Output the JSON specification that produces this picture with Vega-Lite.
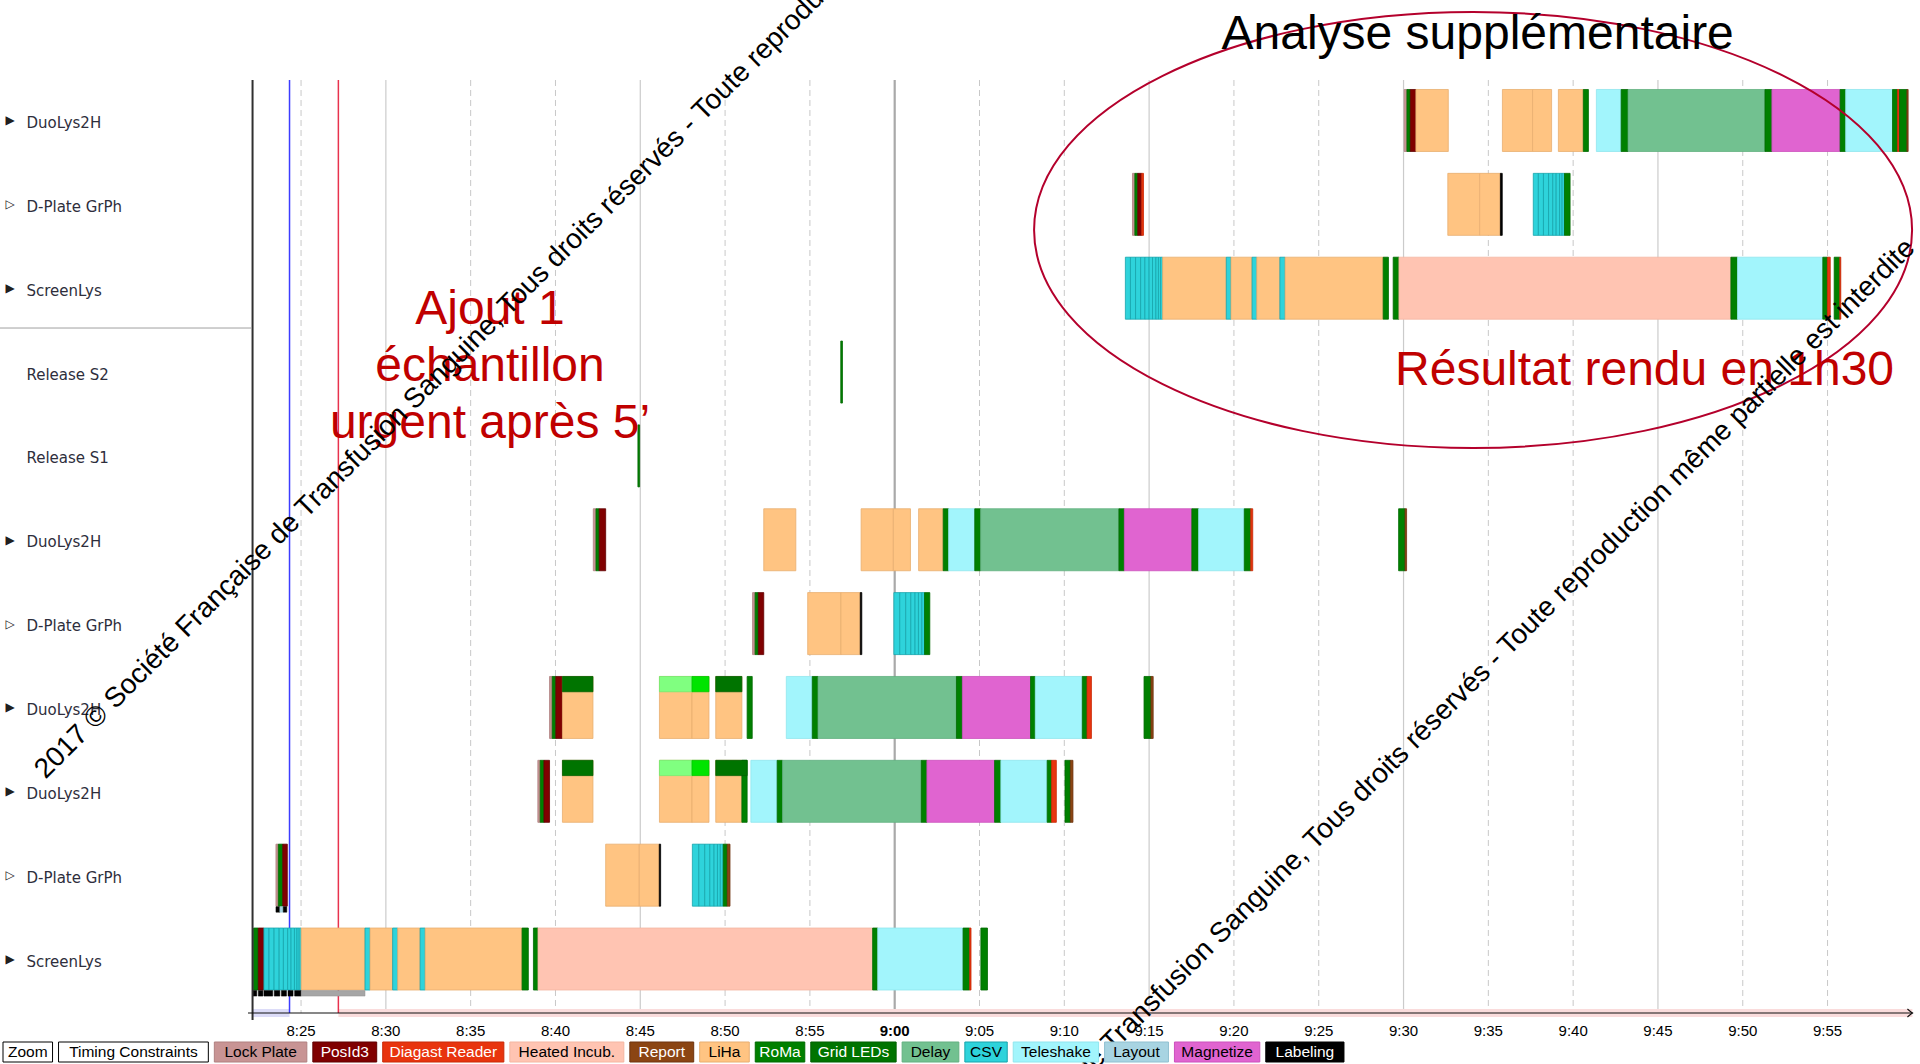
{
  "$schema": "https://vega.github.io/schema/vega-lite/v6.json",
  "width": 1920,
  "height": 1064,
  "autosize": {"type": "none"},
  "padding": 0,
  "background": "#FFFFFF",
  "config": {"view": {"stroke": null}, "text": {"font": "Liberation Sans"}},
  "datasets": {
    "ticks": [
      {"t": 25, "g": "d", "lab": "8:25"}, {"t": 30, "g": "s", "lab": "8:30"}, {"t": 35, "g": "d", "lab": "8:35"},
      {"t": 40, "g": "d", "lab": "8:40"}, {"t": 45, "g": "s", "lab": "8:45"}, {"t": 50, "g": "d", "lab": "8:50"},
      {"t": 55, "g": "d", "lab": "8:55"}, {"t": 60, "g": "n", "lab": "9:00"}, {"t": 65, "g": "d", "lab": "9:05"},
      {"t": 70, "g": "d", "lab": "9:10"}, {"t": 75, "g": "s", "lab": "9:15"}, {"t": 80, "g": "d", "lab": "9:20"},
      {"t": 85, "g": "d", "lab": "9:25"}, {"t": 90, "g": "s", "lab": "9:30"}, {"t": 95, "g": "d", "lab": "9:35"},
      {"t": 100, "g": "d", "lab": "9:40"}, {"t": 105, "g": "s", "lab": "9:45"}, {"t": 110, "g": "d", "lab": "9:50"},
      {"t": 115, "g": "d", "lab": "9:55"}
    ],
    "rows": [
      {"r": 0, "name": "DuoLys2H", "tri": "▶"},
      {"r": 1, "name": "D-Plate GrPh", "tri": "▷"},
      {"r": 2, "name": "ScreenLys", "tri": "▶"},
      {"r": 3, "name": "Release S2", "tri": ""},
      {"r": 4, "name": "Release S1", "tri": ""},
      {"r": 5, "name": "DuoLys2H", "tri": "▶"},
      {"r": 6, "name": "D-Plate GrPh", "tri": "▷"},
      {"r": 7, "name": "DuoLys2H", "tri": "▶"},
      {"r": 8, "name": "DuoLys2H", "tri": "▶"},
      {"r": 9, "name": "D-Plate GrPh", "tri": "▷"},
      {"r": 10, "name": "ScreenLys", "tri": "▶"}
    ],
    "legend": [
      {"n": 1, "label": "Zoom", "k": "btn"},
      {"n": 2, "label": "Timing Constraints", "k": "btn"},
      {"n": 3, "label": "Lock Plate", "k": "Lock Plate"},
      {"n": 4, "label": "PosId3", "k": "PosId3"},
      {"n": 5, "label": "Diagast Reader", "k": "Diagast Reader"},
      {"n": 6, "label": "Heated Incub.", "k": "Heated Incub."},
      {"n": 7, "label": "Report", "k": "Report"},
      {"n": 8, "label": "LiHa", "k": "LiHa"},
      {"n": 9, "label": "RoMa", "k": "RoMa"},
      {"n": 10, "label": "Grid LEDs", "k": "Grid LEDs"},
      {"n": 11, "label": "Delay", "k": "Delay"},
      {"n": 12, "label": "CSV", "k": "CSV"},
      {"n": 13, "label": "Teleshake", "k": "Teleshake"},
      {"n": 14, "label": "Layout", "k": "Layout"},
      {"n": 15, "label": "Magnetize", "k": "Magnetize"},
      {"n": 16, "label": "Labeling", "k": "Labeling"}
    ],
    "bars": [
      {"r": 0, "s": 90.04, "e": 90.2, "k": "Lock Plate"},
      {"r": 0, "s": 90.2, "e": 90.4, "k": "RoMa"},
      {"r": 0, "s": 90.4, "e": 90.73, "k": "PosId3"},
      {"r": 0, "s": 90.73, "e": 92.64, "k": "LiHa"},
      {"r": 0, "s": 95.83, "e": 97.61, "k": "LiHa"},
      {"r": 0, "s": 97.61, "e": 98.73, "k": "LiHa"},
      {"r": 0, "s": 99.13, "e": 100.6, "k": "LiHa"},
      {"r": 0, "s": 100.6, "e": 100.9, "k": "RoMa"},
      {"r": 0, "s": 101.37, "e": 102.83, "k": "Teleshake"},
      {"r": 0, "s": 102.83, "e": 103.24, "k": "RoMa"},
      {"r": 0, "s": 103.24, "e": 111.31, "k": "Delay"},
      {"r": 0, "s": 111.31, "e": 111.72, "k": "RoMa"},
      {"r": 0, "s": 111.72, "e": 115.74, "k": "Magnetize"},
      {"r": 0, "s": 115.74, "e": 116.07, "k": "RoMa"},
      {"r": 0, "s": 116.07, "e": 118.83, "k": "Teleshake"},
      {"r": 0, "s": 118.83, "e": 119.12, "k": "RoMa"},
      {"r": 0, "s": 119.12, "e": 119.24, "k": "Diagast Reader"},
      {"r": 0, "s": 119.24, "e": 119.68, "k": "RoMa"},
      {"r": 0, "s": 119.68, "e": 119.75, "k": "Report"},

      {"r": 1, "s": 74.02, "e": 74.16, "k": "Lock Plate"},
      {"r": 1, "s": 74.16, "e": 74.33, "k": "RoMa"},
      {"r": 1, "s": 74.33, "e": 74.56, "k": "PosId3"},
      {"r": 1, "s": 74.56, "e": 74.67, "k": "Diagast Reader"},
      {"r": 1, "s": 92.61, "e": 94.49, "k": "LiHa"},
      {"r": 1, "s": 94.49, "e": 95.71, "k": "LiHa"},
      {"r": 1, "s": 95.71, "e": 95.82, "k": "Labeling"},
      {"r": 1, "s": 97.65, "e": 97.95, "k": "CSV"},
      {"r": 1, "s": 97.95, "e": 98.25, "k": "CSV"},
      {"r": 1, "s": 98.25, "e": 98.55, "k": "CSV"},
      {"r": 1, "s": 98.55, "e": 98.8, "k": "CSV"},
      {"r": 1, "s": 98.8, "e": 99.0, "k": "CSV"},
      {"r": 1, "s": 99.0, "e": 99.2, "k": "CSV"},
      {"r": 1, "s": 99.2, "e": 99.35, "k": "CSV"},
      {"r": 1, "s": 99.35, "e": 99.49, "k": "CSV"},
      {"r": 1, "s": 99.49, "e": 99.82, "k": "RoMa"},

      {"r": 2, "s": 73.6, "e": 73.9, "k": "CSV"},
      {"r": 2, "s": 73.9, "e": 74.2, "k": "CSV"},
      {"r": 2, "s": 74.2, "e": 74.5, "k": "CSV"},
      {"r": 2, "s": 74.5, "e": 74.75, "k": "CSV"},
      {"r": 2, "s": 74.75, "e": 75.0, "k": "CSV"},
      {"r": 2, "s": 75.0, "e": 75.2, "k": "CSV"},
      {"r": 2, "s": 75.2, "e": 75.4, "k": "CSV"},
      {"r": 2, "s": 75.4, "e": 75.55, "k": "CSV"},
      {"r": 2, "s": 75.55, "e": 75.68, "k": "CSV"},
      {"r": 2, "s": 75.68, "e": 75.8, "k": "CSV"},
      {"r": 2, "s": 75.8, "e": 79.55, "k": "LiHa"},
      {"r": 2, "s": 79.55, "e": 79.83, "k": "CSV"},
      {"r": 2, "s": 79.83, "e": 81.07, "k": "LiHa"},
      {"r": 2, "s": 81.07, "e": 81.35, "k": "CSV"},
      {"r": 2, "s": 81.35, "e": 82.71, "k": "LiHa"},
      {"r": 2, "s": 82.71, "e": 83.02, "k": "CSV"},
      {"r": 2, "s": 83.02, "e": 88.8, "k": "LiHa"},
      {"r": 2, "s": 88.8, "e": 89.11, "k": "RoMa"},
      {"r": 2, "s": 89.39, "e": 89.73, "k": "RoMa"},
      {"r": 2, "s": 89.73, "e": 109.3, "k": "Heated Incub."},
      {"r": 2, "s": 109.3, "e": 109.69, "k": "RoMa"},
      {"r": 2, "s": 109.69, "e": 114.72, "k": "Teleshake"},
      {"r": 2, "s": 114.72, "e": 114.99, "k": "RoMa"},
      {"r": 2, "s": 114.99, "e": 115.16, "k": "Diagast Reader"},
      {"r": 2, "s": 115.39, "e": 115.72, "k": "RoMa"},
      {"r": 2, "s": 115.72, "e": 115.78, "k": "Diagast Reader"},

      {"r": 3, "s": 56.82, "e": 56.92, "k": "RoMa"},
      {"r": 4, "s": 44.86, "e": 44.96, "k": "RoMa"},

      {"r": 5, "s": 42.23, "e": 42.39, "k": "Lock Plate"},
      {"r": 5, "s": 42.39, "e": 42.58, "k": "RoMa"},
      {"r": 5, "s": 42.58, "e": 42.96, "k": "PosId3"},
      {"r": 5, "s": 52.28, "e": 54.17, "k": "LiHa"},
      {"r": 5, "s": 58.02, "e": 59.92, "k": "LiHa"},
      {"r": 5, "s": 59.92, "e": 60.93, "k": "LiHa"},
      {"r": 5, "s": 61.41, "e": 62.86, "k": "LiHa"},
      {"r": 5, "s": 62.86, "e": 63.18, "k": "RoMa"},
      {"r": 5, "s": 63.18, "e": 64.72, "k": "Teleshake"},
      {"r": 5, "s": 64.72, "e": 65.07, "k": "RoMa"},
      {"r": 5, "s": 65.07, "e": 73.22, "k": "Delay"},
      {"r": 5, "s": 73.22, "e": 73.54, "k": "RoMa"},
      {"r": 5, "s": 73.54, "e": 77.52, "k": "Magnetize"},
      {"r": 5, "s": 77.52, "e": 77.92, "k": "RoMa"},
      {"r": 5, "s": 77.92, "e": 80.61, "k": "Teleshake"},
      {"r": 5, "s": 80.61, "e": 80.99, "k": "RoMa"},
      {"r": 5, "s": 80.99, "e": 81.11, "k": "Diagast Reader"},
      {"r": 5, "s": 89.71, "e": 90.09, "k": "RoMa"},
      {"r": 5, "s": 90.09, "e": 90.18, "k": "Report"},

      {"r": 6, "s": 51.62, "e": 51.77, "k": "Lock Plate"},
      {"r": 6, "s": 51.77, "e": 51.96, "k": "RoMa"},
      {"r": 6, "s": 51.96, "e": 52.28, "k": "PosId3"},
      {"r": 6, "s": 54.87, "e": 56.83, "k": "LiHa"},
      {"r": 6, "s": 56.83, "e": 57.97, "k": "LiHa"},
      {"r": 6, "s": 57.97, "e": 58.06, "k": "Labeling"},
      {"r": 6, "s": 59.95, "e": 60.3, "k": "CSV"},
      {"r": 6, "s": 60.3, "e": 60.65, "k": "CSV"},
      {"r": 6, "s": 60.65, "e": 60.95, "k": "CSV"},
      {"r": 6, "s": 60.95, "e": 61.2, "k": "CSV"},
      {"r": 6, "s": 61.2, "e": 61.4, "k": "CSV"},
      {"r": 6, "s": 61.4, "e": 61.6, "k": "CSV"},
      {"r": 6, "s": 61.6, "e": 61.76, "k": "CSV"},
      {"r": 6, "s": 61.76, "e": 62.07, "k": "RoMa"},

      {"r": 7, "s": 39.65, "e": 39.81, "k": "Lock Plate"},
      {"r": 7, "s": 39.81, "e": 40.02, "k": "RoMa"},
      {"r": 7, "s": 40.02, "e": 40.41, "k": "PosId3"},
      {"r": 7, "s": 40.41, "e": 42.21, "k": "LiHa"},
      {"r": 7, "s": 46.13, "e": 48.05, "k": "LiHa"},
      {"r": 7, "s": 48.05, "e": 49.05, "k": "LiHa"},
      {"r": 7, "s": 49.45, "e": 50.99, "k": "LiHa"},
      {"r": 7, "s": 51.3, "e": 51.6, "k": "RoMa"},
      {"r": 7, "s": 53.61, "e": 55.14, "k": "Teleshake"},
      {"r": 7, "s": 55.14, "e": 55.48, "k": "RoMa"},
      {"r": 7, "s": 55.48, "e": 63.64, "k": "Delay"},
      {"r": 7, "s": 63.64, "e": 63.99, "k": "RoMa"},
      {"r": 7, "s": 63.99, "e": 68.01, "k": "Magnetize"},
      {"r": 7, "s": 68.01, "e": 68.29, "k": "RoMa"},
      {"r": 7, "s": 68.29, "e": 71.06, "k": "Teleshake"},
      {"r": 7, "s": 71.06, "e": 71.34, "k": "RoMa"},
      {"r": 7, "s": 71.34, "e": 71.6, "k": "Diagast Reader"},
      {"r": 7, "s": 74.7, "e": 75.11, "k": "RoMa"},
      {"r": 7, "s": 75.11, "e": 75.24, "k": "Report"},
      {"r": 7, "s": 40.41, "e": 42.21, "k": "Grid LEDs", "p": "t"},
      {"r": 7, "s": 46.13, "e": 48.05, "k": "LED1", "p": "t"},
      {"r": 7, "s": 48.05, "e": 49.05, "k": "LED2", "p": "t"},
      {"r": 7, "s": 49.45, "e": 50.99, "k": "Grid LEDs", "p": "t"},

      {"r": 8, "s": 38.96, "e": 39.1, "k": "Lock Plate"},
      {"r": 8, "s": 39.1, "e": 39.32, "k": "RoMa"},
      {"r": 8, "s": 39.32, "e": 39.65, "k": "PosId3"},
      {"r": 8, "s": 40.41, "e": 42.21, "k": "LiHa"},
      {"r": 8, "s": 46.13, "e": 48.05, "k": "LiHa"},
      {"r": 8, "s": 48.05, "e": 49.05, "k": "LiHa"},
      {"r": 8, "s": 49.45, "e": 50.99, "k": "LiHa"},
      {"r": 8, "s": 50.99, "e": 51.3, "k": "RoMa"},
      {"r": 8, "s": 51.52, "e": 53.07, "k": "Teleshake"},
      {"r": 8, "s": 53.07, "e": 53.39, "k": "RoMa"},
      {"r": 8, "s": 53.39, "e": 61.57, "k": "Delay"},
      {"r": 8, "s": 61.57, "e": 61.9, "k": "RoMa"},
      {"r": 8, "s": 61.9, "e": 65.89, "k": "Magnetize"},
      {"r": 8, "s": 65.89, "e": 66.26, "k": "RoMa"},
      {"r": 8, "s": 66.26, "e": 68.99, "k": "Teleshake"},
      {"r": 8, "s": 68.99, "e": 69.25, "k": "RoMa"},
      {"r": 8, "s": 69.25, "e": 69.53, "k": "Diagast Reader"},
      {"r": 8, "s": 70.04, "e": 70.36, "k": "RoMa"},
      {"r": 8, "s": 70.36, "e": 70.51, "k": "Report"},
      {"r": 8, "s": 40.41, "e": 42.21, "k": "Grid LEDs", "p": "t"},
      {"r": 8, "s": 46.13, "e": 48.05, "k": "LED1", "p": "t"},
      {"r": 8, "s": 48.05, "e": 49.05, "k": "LED2", "p": "t"},
      {"r": 8, "s": 49.45, "e": 51.3, "k": "Grid LEDs", "p": "t"},

      {"r": 9, "s": 23.52, "e": 23.66, "k": "Lock Plate"},
      {"r": 9, "s": 23.66, "e": 23.92, "k": "RoMa"},
      {"r": 9, "s": 23.92, "e": 24.19, "k": "PosId3"},
      {"r": 9, "s": 42.96, "e": 44.94, "k": "LiHa"},
      {"r": 9, "s": 44.94, "e": 46.12, "k": "LiHa"},
      {"r": 9, "s": 46.12, "e": 46.2, "k": "Labeling"},
      {"r": 9, "s": 48.07, "e": 48.45, "k": "CSV"},
      {"r": 9, "s": 48.45, "e": 48.8, "k": "CSV"},
      {"r": 9, "s": 48.8, "e": 49.1, "k": "CSV"},
      {"r": 9, "s": 49.1, "e": 49.35, "k": "CSV"},
      {"r": 9, "s": 49.35, "e": 49.55, "k": "CSV"},
      {"r": 9, "s": 49.55, "e": 49.72, "k": "CSV"},
      {"r": 9, "s": 49.72, "e": 49.89, "k": "CSV"},
      {"r": 9, "s": 49.89, "e": 50.13, "k": "RoMa"},
      {"r": 9, "s": 50.13, "e": 50.29, "k": "Report"},
      {"r": 9, "s": 23.52, "e": 23.75, "k": "Labeling", "p": "b"},
      {"r": 9, "s": 23.75, "e": 23.95, "k": "Layout", "p": "b"},
      {"r": 9, "s": 23.95, "e": 24.16, "k": "Labeling", "p": "b"},

      {"r": 10, "s": 22.2, "e": 22.48, "k": "RoMa"},
      {"r": 10, "s": 22.48, "e": 22.81, "k": "PosId3"},
      {"r": 10, "s": 22.81, "e": 23.11, "k": "CSV"},
      {"r": 10, "s": 23.11, "e": 23.41, "k": "CSV"},
      {"r": 10, "s": 23.41, "e": 23.71, "k": "CSV"},
      {"r": 10, "s": 23.71, "e": 23.96, "k": "CSV"},
      {"r": 10, "s": 23.96, "e": 24.21, "k": "CSV"},
      {"r": 10, "s": 24.21, "e": 24.41, "k": "CSV"},
      {"r": 10, "s": 24.41, "e": 24.61, "k": "CSV"},
      {"r": 10, "s": 24.61, "e": 24.76, "k": "CSV"},
      {"r": 10, "s": 24.76, "e": 24.89, "k": "CSV"},
      {"r": 10, "s": 24.89, "e": 25.01, "k": "CSV"},
      {"r": 10, "s": 25.01, "e": 28.77, "k": "LiHa"},
      {"r": 10, "s": 28.77, "e": 29.07, "k": "CSV"},
      {"r": 10, "s": 29.07, "e": 30.4, "k": "LiHa"},
      {"r": 10, "s": 30.4, "e": 30.7, "k": "CSV"},
      {"r": 10, "s": 30.7, "e": 32.02, "k": "LiHa"},
      {"r": 10, "s": 32.02, "e": 32.32, "k": "CSV"},
      {"r": 10, "s": 32.32, "e": 38.03, "k": "LiHa"},
      {"r": 10, "s": 38.03, "e": 38.4, "k": "RoMa"},
      {"r": 10, "s": 38.7, "e": 38.97, "k": "RoMa"},
      {"r": 10, "s": 38.97, "e": 58.7, "k": "Heated Incub."},
      {"r": 10, "s": 58.7, "e": 59.0, "k": "RoMa"},
      {"r": 10, "s": 59.0, "e": 64.03, "k": "Teleshake"},
      {"r": 10, "s": 64.03, "e": 64.42, "k": "RoMa"},
      {"r": 10, "s": 64.42, "e": 64.5, "k": "Diagast Reader"},
      {"r": 10, "s": 65.08, "e": 65.47, "k": "RoMa"},
      {"r": 10, "s": 22.15, "e": 22.39, "k": "Labeling", "p": "b"},
      {"r": 10, "s": 22.48, "e": 22.75, "k": "Labeling", "p": "b"},
      {"r": 10, "s": 22.81, "e": 23.33, "k": "Labeling", "p": "b"},
      {"r": 10, "s": 23.42, "e": 23.75, "k": "Labeling", "p": "b"},
      {"r": 10, "s": 23.84, "e": 24.14, "k": "Labeling", "p": "b"},
      {"r": 10, "s": 24.23, "e": 24.53, "k": "Labeling", "p": "b"},
      {"r": 10, "s": 24.62, "e": 25.01, "k": "Labeling", "p": "b"},
      {"r": 10, "s": 25.01, "e": 28.77, "k": "Idle", "p": "b"}
    ]
  },
  "layer": [
    {
      "data": {"name": "ticks"},
      "transform": [{"filter": "datum.g == 'd'"}],
      "mark": {"type": "rule", "color": "#C8C8C8", "strokeWidth": 1, "strokeDash": [6, 4]},
      "encoding": {
        "x": {"field": "t", "type": "quantitative", "scale": {"domain": [7.25, 120.45], "nice": false, "zero": false, "padding": 0}, "axis": null},
        "y": {"datum": -0.483, "type": "quantitative", "scale": {"domain": [-1.437, 11.252], "reverse": true, "nice": false, "zero": false, "padding": 0}, "axis": null},
        "y2": {"datum": 10.644}
      }
    },
    {
      "data": {"name": "ticks"},
      "transform": [{"filter": "datum.g == 's'"}],
      "mark": {"type": "rule", "color": "#CBCBCB", "strokeWidth": 1.2},
      "encoding": {
        "x": {"field": "t", "type": "quantitative", "axis": null},
        "y": {"datum": -0.483, "type": "quantitative", "axis": null},
        "y2": {"datum": 10.644}
      }
    },
    {
      "data": {"name": "ticks"},
      "transform": [{"filter": "datum.g == 'n'"}],
      "mark": {"type": "rule", "color": "#A9A9A9", "strokeWidth": 2.2},
      "encoding": {
        "x": {"field": "t", "type": "quantitative", "axis": null},
        "y": {"datum": -0.483, "type": "quantitative", "axis": null},
        "y2": {"datum": 10.644}
      }
    },
    {
      "data": {"name": "ticks"},
      "transform": [{"filter": "datum.t != 60"}],
      "mark": {"type": "text", "align": "center", "baseline": "middle", "fontSize": 15, "fill": "#000000"},
      "encoding": {
        "x": {"field": "t", "type": "quantitative", "axis": null},
        "y": {"datum": 10.859, "type": "quantitative", "axis": null},
        "text": {"field": "lab"}
      }
    },
    {
      "data": {"name": "ticks"},
      "transform": [{"filter": "datum.t == 60"}],
      "mark": {"type": "text", "align": "center", "baseline": "middle", "fontSize": 15, "fontWeight": "bold", "fill": "#000000"},
      "encoding": {
        "x": {"field": "t", "type": "quantitative", "axis": null},
        "y": {"datum": 10.859, "type": "quantitative", "axis": null},
        "text": {"field": "lab"}
      }
    },
    {
      "data": {"values": [{}]},
      "mark": {"type": "rule", "color": "#FADCDC", "strokeWidth": 8},
      "encoding": {
        "x": {"datum": 27.2, "type": "quantitative", "axis": null},
        "x2": {"datum": 120.0},
        "y": {"datum": 10.644, "type": "quantitative", "axis": null}
      }
    },
    {
      "data": {"values": [{}]},
      "mark": {"type": "rule", "color": "#DCDCF8", "strokeWidth": 8},
      "encoding": {
        "x": {"datum": 22.11, "type": "quantitative", "axis": null},
        "x2": {"datum": 24.32},
        "y": {"datum": 10.644, "type": "quantitative", "axis": null}
      }
    },
    {
      "data": {"values": [{}]},
      "mark": {"type": "rule", "color": "#3C3CFF", "strokeWidth": 1.5},
      "encoding": {
        "x": {"datum": 24.32, "type": "quantitative", "axis": null},
        "y": {"datum": -0.483, "type": "quantitative", "axis": null},
        "y2": {"datum": 10.644}
      }
    },
    {
      "data": {"values": [{}]},
      "mark": {"type": "rule", "color": "#E8324E", "strokeWidth": 1.5},
      "encoding": {
        "x": {"datum": 27.2, "type": "quantitative", "axis": null},
        "y": {"datum": -0.483, "type": "quantitative", "axis": null},
        "y2": {"datum": 10.644}
      }
    },
    {
      "data": {"name": "bars"},
      "transform": [{"filter": "!datum.p"}],
      "mark": {"type": "bar", "height": 62, "strokeWidth": 0.8},
      "encoding": {
        "x": {"field": "s", "type": "quantitative", "axis": null},
        "x2": {"field": "e"},
        "y": {"field": "r", "type": "quantitative", "axis": null},
        "fill": {"field": "k", "type": "nominal", "legend": null,
          "scale": {"domain": ["Lock Plate", "PosId3", "Diagast Reader", "Heated Incub.", "Report", "LiHa", "RoMa", "Grid LEDs", "Delay", "CSV", "Teleshake", "Layout", "Magnetize", "Labeling", "LED1", "LED2", "Idle", "btn"],
            "range": ["#C89494", "#800000", "#E8340E", "#FFC4B2", "#8B4513", "#FFC482", "#008000", "#007400", "#72C190", "#2ED3DB", "#A2F5FC", "#A8D4E2", "#E064D0", "#000000", "#80FF80", "#00E400", "#A6A6A6", "#FFFFFF"]}},
        "stroke": {"field": "k", "type": "nominal", "legend": null,
          "scale": {"domain": ["Lock Plate", "PosId3", "Diagast Reader", "Heated Incub.", "Report", "LiHa", "RoMa", "Grid LEDs", "Delay", "CSV", "Teleshake", "Layout", "Magnetize", "Labeling", "LED1", "LED2", "Idle", "btn"],
            "range": ["#B08080", "#600000", "#C82A08", "#F4B6A2", "#6E3410", "#E8AE70", "#006A00", "#006000", "#62B080", "#17A4AC", "#90E6EE", "#90C0D0", "#CC50BC", "#000000", "#70EE70", "#00C800", "#909090", "#000000"]}}
      }
    },
    {
      "data": {"name": "bars"},
      "transform": [{"filter": "datum.p == 't'"}],
      "mark": {"type": "bar", "height": 15.3, "yOffset": -23.35, "strokeWidth": 0.8},
      "encoding": {
        "x": {"field": "s", "type": "quantitative", "axis": null},
        "x2": {"field": "e"},
        "y": {"field": "r", "type": "quantitative", "axis": null},
        "fill": {"field": "k", "type": "nominal", "legend": null},
        "stroke": {"field": "k", "type": "nominal", "legend": null}
      }
    },
    {
      "data": {"name": "bars"},
      "transform": [{"filter": "datum.p == 'b'"}],
      "mark": {"type": "bar", "height": 5.5, "yOffset": 34.3, "strokeWidth": 0.5},
      "encoding": {
        "x": {"field": "s", "type": "quantitative", "axis": null},
        "x2": {"field": "e"},
        "y": {"field": "r", "type": "quantitative", "axis": null},
        "fill": {"field": "k", "type": "nominal", "legend": null},
        "stroke": {"field": "k", "type": "nominal", "legend": null}
      }
    },
    {
      "data": {"values": [{}]},
      "mark": {"type": "rule", "color": "#303030", "strokeWidth": 2},
      "encoding": {
        "x": {"datum": 22.14, "type": "quantitative", "axis": null},
        "y": {"datum": -0.483, "type": "quantitative", "axis": null},
        "y2": {"datum": 10.727}
      }
    },
    {
      "data": {"values": [{}]},
      "mark": {"type": "rule", "color": "#101010", "strokeWidth": 1.2},
      "encoding": {
        "x": {"datum": 21.87, "type": "quantitative", "axis": null},
        "x2": {"datum": 120.05},
        "y": {"datum": 10.644, "type": "quantitative", "axis": null}
      }
    },
    {
      "data": {"values": [{}]},
      "mark": {"type": "point", "shape": "M -0.6 -1 L 0.6 0 L -0.6 1", "size": 64, "filled": false, "stroke": "#101010", "strokeWidth": 1.2, "opacity": 1},
      "encoding": {
        "x": {"datum": 119.85, "type": "quantitative", "axis": null},
        "y": {"datum": 10.644, "type": "quantitative", "axis": null}
      }
    },
    {
      "data": {"values": [{}]},
      "mark": {"type": "rule", "color": "#A0A0A0", "strokeWidth": 1},
      "encoding": {
        "x": {"datum": 7.25, "type": "quantitative", "axis": null},
        "x2": {"datum": 22.11},
        "y": {"datum": 2.475, "type": "quantitative", "axis": null}
      }
    },
    {
      "data": {"name": "rows"},
      "mark": {"type": "text", "align": "left", "baseline": "middle", "font": "DejaVu Sans", "fontSize": 15, "fill": "#2E2E3C", "dy": 2.5},
      "encoding": {
        "x": {"datum": 8.81, "type": "quantitative", "axis": null},
        "y": {"field": "r", "type": "quantitative", "axis": null},
        "text": {"field": "name"}
      }
    },
    {
      "data": {"name": "rows"},
      "mark": {"type": "text", "align": "center", "baseline": "middle", "font": "DejaVu Sans", "fontSize": 12, "fill": "#202020", "dy": 0},
      "encoding": {
        "x": {"datum": 7.84, "type": "quantitative", "axis": null},
        "y": {"field": "r", "type": "quantitative", "axis": null},
        "text": {"field": "tri"}
      }
    },
    {
      "data": {"values": [{}]},
      "mark": {"type": "point", "shape": "M -1 0 A 1 0.4966 0 1 0 1 0 A 1 0.4966 0 1 0 -1 0 Z", "size": 770884, "filled": false, "stroke": "#B4002C", "strokeWidth": 2, "opacity": 1},
      "encoding": {
        "x": {"datum": 94.1, "type": "quantitative", "axis": null},
        "y": {"datum": 1.306, "type": "quantitative", "axis": null}
      }
    },
    {
      "data": {"values": [{}]},
      "mark": {"type": "text", "align": "center", "baseline": "alphabetic", "fontSize": 48, "fill": "#C00000", "lineHeight": 57,
        "text": ["Ajout 1", "échantillon", "urgent après 5’"]},
      "encoding": {
        "x": {"datum": 36.14, "type": "quantitative", "axis": null},
        "y": {"datum": 2.43, "type": "quantitative", "axis": null}
      }
    },
    {
      "data": {"values": [{}]},
      "mark": {"type": "text", "align": "center", "baseline": "alphabetic", "fontSize": 48, "fill": "#000000", "text": "Analyse supplémentaire"},
      "encoding": {
        "x": {"datum": 94.37, "type": "quantitative", "axis": null},
        "y": {"datum": -0.855, "type": "quantitative", "axis": null}
      }
    },
    {
      "data": {"values": [{}]},
      "mark": {"type": "text", "align": "center", "baseline": "alphabetic", "fontSize": 48, "fill": "#C00000", "text": "Résultat rendu en 1h30"},
      "encoding": {
        "x": {"datum": 104.21, "type": "quantitative", "axis": null},
        "y": {"datum": 3.15, "type": "quantitative", "axis": null}
      }
    },
    {
      "data": {"values": [{}]},
      "mark": {"type": "text", "align": "left", "baseline": "middle", "fontSize": 28, "fill": "#000000", "angle": 315,
        "text": "2017 © Société Française de Transfusion Sanguine, Tous droits réservés - Toute reproduction même partielle est interdite"},
      "encoding": {
        "x": {"datum": 9.6, "type": "quantitative", "axis": null},
        "y": {"datum": 7.794, "type": "quantitative", "axis": null}
      }
    },
    {
      "data": {"values": [{}]},
      "mark": {"type": "text", "align": "right", "baseline": "middle", "fontSize": 28, "fill": "#000000", "angle": 315,
        "text": "2017 © Société Française de Transfusion Sanguine, Tous droits réservés - Toute reproduction même partielle est interdite"},
      "encoding": {
        "x": {"datum": 119.9, "type": "quantitative", "axis": null},
        "y": {"datum": 1.47, "type": "quantitative", "axis": null}
      }
    },
    {
      "data": {"name": "legend"},
      "transform": [
        {"calculate": "length(datum.label) * 7.16 + 20.9", "as": "w"},
        {"window": [{"op": "sum", "field": "w", "as": "cw"}, {"op": "row_number", "as": "i"}], "sort": [{"field": "n"}]},
        {"calculate": "7.25 + (3 + datum.cw - datum.w + 6 * (datum.i - 1)) / 16.96", "as": "x1"},
        {"calculate": "datum.x1 + datum.w / 16.96", "as": "x2"}
      ],
      "mark": {"type": "bar", "height": 20, "strokeWidth": 1},
      "encoding": {
        "x": {"field": "x1", "type": "quantitative", "axis": null},
        "x2": {"field": "x2"},
        "y": {"datum": 11.109, "type": "quantitative", "axis": null},
        "fill": {"field": "k", "type": "nominal", "legend": null},
        "stroke": {"field": "k", "type": "nominal", "legend": null}
      }
    },
    {
      "data": {"name": "legend"},
      "transform": [
        {"calculate": "length(datum.label) * 7.16 + 20.9", "as": "w"},
        {"window": [{"op": "sum", "field": "w", "as": "cw"}, {"op": "row_number", "as": "i"}], "sort": [{"field": "n"}]},
        {"calculate": "7.25 + (3 + datum.cw - datum.w / 2 + 6 * (datum.i - 1)) / 16.96", "as": "xm"}
      ],
      "mark": {"type": "text", "align": "center", "baseline": "middle", "fontSize": 15.5},
      "encoding": {
        "x": {"field": "xm", "type": "quantitative", "axis": null},
        "y": {"datum": 11.109, "type": "quantitative", "axis": null},
        "text": {"field": "label"},
        "color": {"condition": {"test": "indexof(['PosId3','Diagast Reader','Report','RoMa','Grid LEDs','Labeling'], datum.k) >= 0", "value": "#FFFFFF"}, "value": "#000000"}
      }
    }
  ]
}
